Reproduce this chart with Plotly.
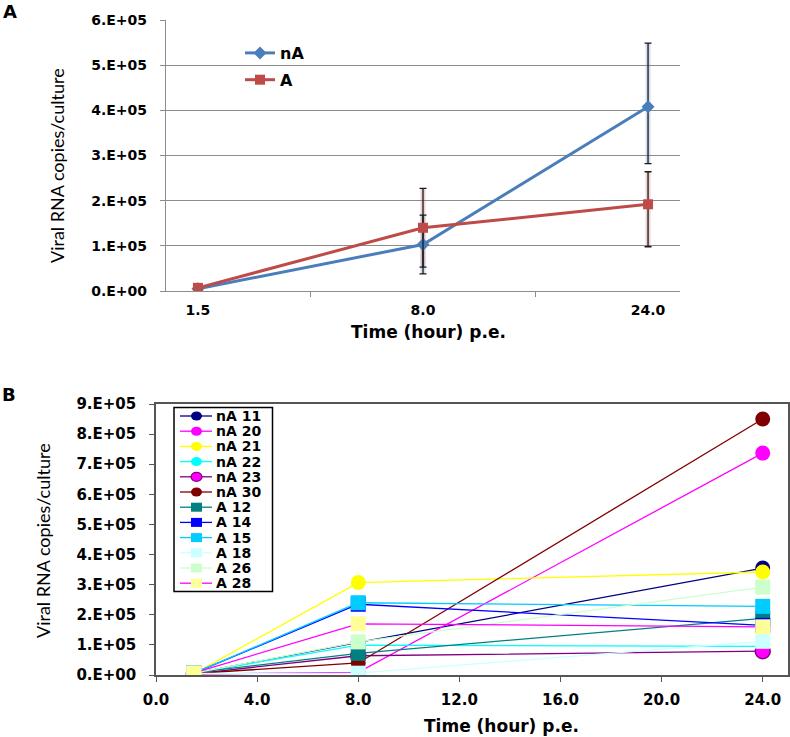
import plotly.graph_objects as go

W, H = 790, 737


def px(x):
    return x / W


def py(y):
    return 1 - y / H


# ---------------- Panel A data ----------------
a_categories = ["1.5", "8.0", "24.0"]
a_nA = [5000, 103000, 408000]
a_nA_err_plus = [0, 65000, 141000]
a_nA_err_minus = [0, 65000, 126000]
a_A = [7000, 140000, 192000]
a_A_err_plus = [0, 87000, 72000]
a_A_err_minus = [0, 87000, 94000]
a_ytickvals = [0, 100000, 200000, 300000, 400000, 500000, 600000]
a_yticktext = ["0.E+00", "1.E+05", "2.E+05", "3.E+05", "4.E+05", "5.E+05", "6.E+05"]

# ---------------- Panel B data ----------------
b_times = [1.5, 8.0, 24.0]
b_names = ["nA 11", "nA 20", "nA 21", "nA 22", "nA 23", "nA 30",
           "A 12", "A 14", "A 15", "A 18", "A 26", "A 28"]
b_nA11 = [5000, 108000, 355000]
b_nA20 = [3000, 9000, 737000]
b_nA21 = [4000, 307000, 342000]
b_nA22 = [6000, 99000, 95000]
b_nA23 = [4000, 64000, 79000]
b_nA30 = [5000, 40000, 850000]
b_A12 = [8000, 72000, 188000]
b_A14 = [6000, 235000, 165000]
b_A15 = [6000, 240000, 228000]
b_A18 = [5000, 6000, 112000]
b_A26 = [6000, 110000, 292000]
b_A28 = [7000, 170000, 160000]
b_values = [b_nA11, b_nA20, b_nA21, b_nA22, b_nA23, b_nA30,
            b_A12, b_A14, b_A15, b_A18, b_A26, b_A28]
b_ytickvals = [0, 100000, 200000, 300000, 400000, 500000, 600000, 700000, 800000, 900000]
b_yticktext = ["0.E+00", "1.E+05", "2.E+05", "3.E+05", "4.E+05",
               "5.E+05", "6.E+05", "7.E+05", "8.E+05", "9.E+05"]
b_xtickvals = [0, 4, 8, 12, 16, 20, 24]
b_xticktext = ["0.0", "4.0", "8.0", "12.0", "16.0", "20.0", "24.0"]

# styles for panel B series
b_line_colors = ["#000080", "#FF00FF", "#FFFF00", "#00FFFF", "#800080", "#800000",
                 "#008080", "#0000FF", "#00CCFF", "#CCFFFF", "#CCFFCC", "#FF00FF"]
b_marker_colors = ["#000080", "#FF00FF", "#FFFF00", "#00FFFF", "#FF00FF", "#800000",
                   "#008080", "#0000FF", "#00CCFF", "#CCFFFF", "#CCFFCC", "#FFFF99"]
b_marker_border = [None, None, None, None, "#800080", None,
                   None, None, None, None, None, None]
b_symbols = ["circle"] * 6 + ["square"] * 6

BOLD = dict(family="DejaVu Sans", weight="bold", color="black")

fig = go.Figure()

# ---- Panel A: faint coloured glow behind the error bars ----
fig.add_trace(go.Scatter(
    x=a_categories, y=a_nA, mode="markers", marker=dict(opacity=0),
    error_y=dict(type="data", array=a_nA_err_plus, arrayminus=a_nA_err_minus,
                 color="rgba(79,129,189,0.25)", thickness=5, width=0),
    showlegend=False, hoverinfo="skip", xaxis="x", yaxis="y"))
fig.add_trace(go.Scatter(
    x=a_categories, y=a_A, mode="markers", marker=dict(opacity=0),
    error_y=dict(type="data", array=a_A_err_plus, arrayminus=a_A_err_minus,
                 color="rgba(192,80,77,0.25)", thickness=5, width=0),
    showlegend=False, hoverinfo="skip", xaxis="x", yaxis="y"))

fig.add_trace(go.Scatter(
    x=a_categories, y=a_nA, name="nA", mode="lines+markers",
    line=dict(color="#4A7EBB", width=3),
    marker=dict(symbol="diamond", size=10, color="#4A7EBB"),
    error_y=dict(type="data", array=a_nA_err_plus, arrayminus=a_nA_err_minus,
                 color="#1a1a1a", thickness=1.3, width=3.5),
    legendgroup="nA", xaxis="x", yaxis="y"))
fig.add_trace(go.Scatter(
    x=a_categories, y=a_A, name="A", mode="lines+markers",
    line=dict(color="#BE4B48", width=3),
    marker=dict(symbol="square", size=10, color="#BE4B48"),
    error_y=dict(type="data", array=a_A_err_plus, arrayminus=a_A_err_minus,
                 color="#1a1a1a", thickness=1.3, width=3.5),
    legendgroup="A", xaxis="x", yaxis="y"))

# ---- Panel B series ----
for name, vals, lc, mc, mb, sym in zip(b_names, b_values, b_line_colors,
                                       b_marker_colors, b_marker_border, b_symbols):
    fig.add_trace(go.Scatter(
        x=b_times, y=vals, name=name, mode="lines+markers",
        line=dict(color=lc, width=1.3),
        marker=dict(symbol=sym, size=15, color=mc,
                    line=dict(color=mb if mb else mc, width=1.5 if mb else 0)),
        showlegend=False, xaxis="x2", yaxis="y2"))

# ---- Panel B custom legend (box, sample line, marker, text) ----
shapes = []
annotations = []
leg_left, leg_top, leg_right, leg_bottom = 174, 407.5, 272.5, 591.5
shapes.append(dict(type="rect", xref="paper", yref="paper",
                   x0=px(leg_left), x1=px(leg_right), y0=py(leg_bottom), y1=py(leg_top),
                   line=dict(color="black", width=1.5), fillcolor="white", layer="above"))
row0, row_step = 416.0, 15.2
for i, (name, lc, mc, mb, sym) in enumerate(zip(b_names, b_line_colors, b_marker_colors,
                                                  b_marker_border, b_symbols)):
    yc = row0 + i * row_step
    shapes.append(dict(type="line", xref="paper", yref="paper",
                       x0=px(180), x1=px(212), y0=py(yc), y1=py(yc),
                       line=dict(color=lc, width=1.3), layer="above"))
    shapes.append(dict(type="circle" if sym == "circle" else "rect",
                       xref="paper", yref="paper",
                       x0=px(191), x1=px(202), y0=py(yc + 4.5), y1=py(yc - 4.5),
                       fillcolor=mc, line=dict(color=mb if mb else mc, width=1.2 if mb else 0),
                       layer="above"))
    annotations.append(dict(text=name, xref="paper", yref="paper", x=px(214), y=py(yc),
                            xanchor="left", yanchor="middle", showarrow=False,
                            font=dict(size=14, **BOLD)))

# ---- Titles / panel labels ----
annotations += [
    dict(text="A", x=px(10), y=py(11), xref="paper", yref="paper", showarrow=False,
         xanchor="center", yanchor="middle", font=dict(size=18, **BOLD)),
    dict(text="B", x=px(9), y=py(394), xref="paper", yref="paper", showarrow=False,
         xanchor="center", yanchor="middle", font=dict(size=18, **BOLD)),
    dict(text="Viral RNA copies/culture", x=px(57), y=py(166), xref="paper", yref="paper",
         showarrow=False, textangle=-90, xanchor="center", yanchor="middle",
         font=dict(family="Lato", size=18, color="black")),
    dict(text="Viral RNA copies/culture", x=px(43), y=py(541), xref="paper", yref="paper",
         showarrow=False, textangle=-90, xanchor="center", yanchor="middle",
         font=dict(family="Lato", size=18, color="black")),
    dict(text="Time (hour) p.e.", x=px(428), y=py(332), xref="paper", yref="paper",
         showarrow=False, xanchor="center", yanchor="middle", font=dict(size=17, **BOLD)),
    dict(text="Time (hour) p.e.", x=px(502), y=py(726), xref="paper", yref="paper",
         showarrow=False, xanchor="center", yanchor="middle", font=dict(size=17, **BOLD)),
]

GRAY = "#8C8C8C"
DARK = "#555555"

fig.update_layout(
    width=W, height=H,
    margin=dict(l=0, r=0, t=0, b=0, autoexpand=False),
    paper_bgcolor="white", plot_bgcolor="white",
    showlegend=True,
    legend=dict(x=px(240), y=py(36), xanchor="left", yanchor="top",
                bgcolor="rgba(0,0,0,0)", borderwidth=0, itemwidth=30,
                tracegroupgap=3, font=dict(size=16, **BOLD)),
    xaxis=dict(domain=[px(166), px(680)], anchor="y", type="category", automargin=False,
               tickson="boundaries", ticks="outside", ticklen=5, tickcolor=GRAY,
               showline=True, linecolor=GRAY, linewidth=1.2, showgrid=False,
               tickfont=dict(size=14, **BOLD), ticklabelstandoff=6, fixedrange=True),
    yaxis=dict(domain=[py(291), py(20)], anchor="x", range=[0, 600000], automargin=False,
               tickvals=a_ytickvals, ticktext=a_yticktext, ticks="outside", ticklen=5,
               tickcolor=GRAY, showline=True, linecolor=GRAY, linewidth=1.2,
               showgrid=True, gridcolor=GRAY, gridwidth=1, zeroline=False,
               tickfont=dict(size=14, **BOLD), ticklabelstandoff=10),
    xaxis2=dict(domain=[px(156), px(788)], anchor="y2", range=[0, 25], automargin=False,
                tickvals=b_xtickvals, ticktext=b_xticktext, ticks="outside", ticklen=5,
                tickcolor=DARK, showline=True, mirror=True, linecolor=DARK, linewidth=1.5,
                showgrid=False, zeroline=False,
                tickfont=dict(size=15, **BOLD), ticklabelstandoff=5),
    yaxis2=dict(domain=[py(675), py(404)], anchor="x2", range=[0, 900000], automargin=False,
                tickvals=b_ytickvals, ticktext=b_yticktext, ticks="outside", ticklen=5,
                tickcolor=DARK, showline=True, mirror=True, linecolor=DARK, linewidth=1.5,
                showgrid=False, zeroline=False,
                tickfont=dict(size=15, **BOLD), ticklabelstandoff=10),
    shapes=shapes,
    annotations=annotations,
)

fig.write_html("out.html",
               config={"displayModeBar": False},
               post_script="document.body.style.margin='0';document.body.style.overflow='hidden';")
